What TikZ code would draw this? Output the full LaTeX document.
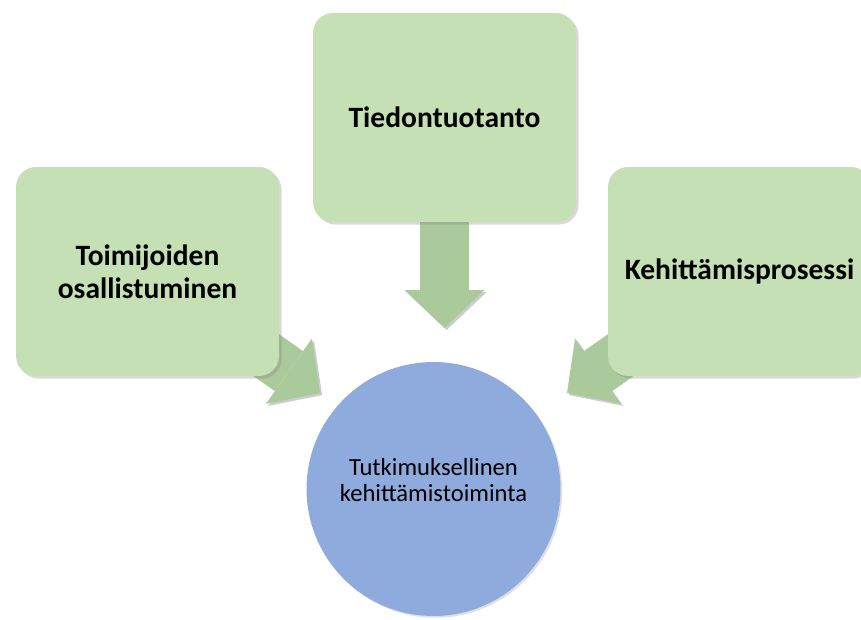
\documentclass[tikz,border=0pt]{standalone}
\usepackage{fontspec}
\setmainfont{Carlito}
\usetikzlibrary{arrows.meta,shadows,backgrounds}

\definecolor{boxgreen}{RGB}{197,224,180}
\definecolor{arrowgreen}{RGB}{170,202,156}
\definecolor{hubblue}{RGB}{143,170,220}

\tikzset{
  greenbox/.style={rectangle, rounded corners=0.4cm, fill=boxgreen, minimum width=5.26cm, minimum height=4.18cm, align=center, font=\fontsize{16.8}{18.5}\selectfont\bfseries, drop shadow={opacity=0.3, shadow xshift=1.5pt, shadow yshift=-1.5pt}},
  hub/.style={circle, fill=hubblue, minimum size=5.08cm, inner sep=0pt, align=center, text depth=0.36cm, font=\fontsize{14}{15}\selectfont, drop shadow={opacity=0.25, shadow xshift=1pt, shadow yshift=-1pt}},
  blockarrow/.style={draw=arrowgreen, fill=arrowgreen, line width=0.98cm, -{Triangle[width=1.6cm, length=0.76cm, line width=0pt]}, preaction={draw=black, fill=black, opacity=0.2, transform canvas={shift={(1.2pt,-1.2pt)}}}}
}

\begin{document}
\begin{tikzpicture}[x=0.02cm,y=-0.02cm]
\useasboundingbox (0,0) rectangle (861,619);
\clip (0,0) rectangle (861,619);
\node[greenbox] (tieto) at (444.5,117.5) {Tiedontuotanto};
\node[greenbox] (toimijat) at (147.5,271.5) {Toimijoiden\\osallistuminen};
\node[greenbox] (prosessi) at (739.5,271.5) {Kehittämisprosessi};
\node[hub] (tkt) at (433.5,489) {Tutkimuksellinen\\kehittämistoiminta};
\coordinate (tietotip) at (444.5,328);
\coordinate (toimijattip) at (320,393);
\coordinate (prosessitip) at (567,393);
% arrows behind the boxes
\begin{scope}[on background layer]
\draw[blockarrow] (tieto.south) -- (tietotip);
\draw[blockarrow] (toimijat.center) -- (toimijattip);
\draw[blockarrow] (prosessi.center) -- (prosessitip);
\end{scope}
\end{tikzpicture}
\end{document}
